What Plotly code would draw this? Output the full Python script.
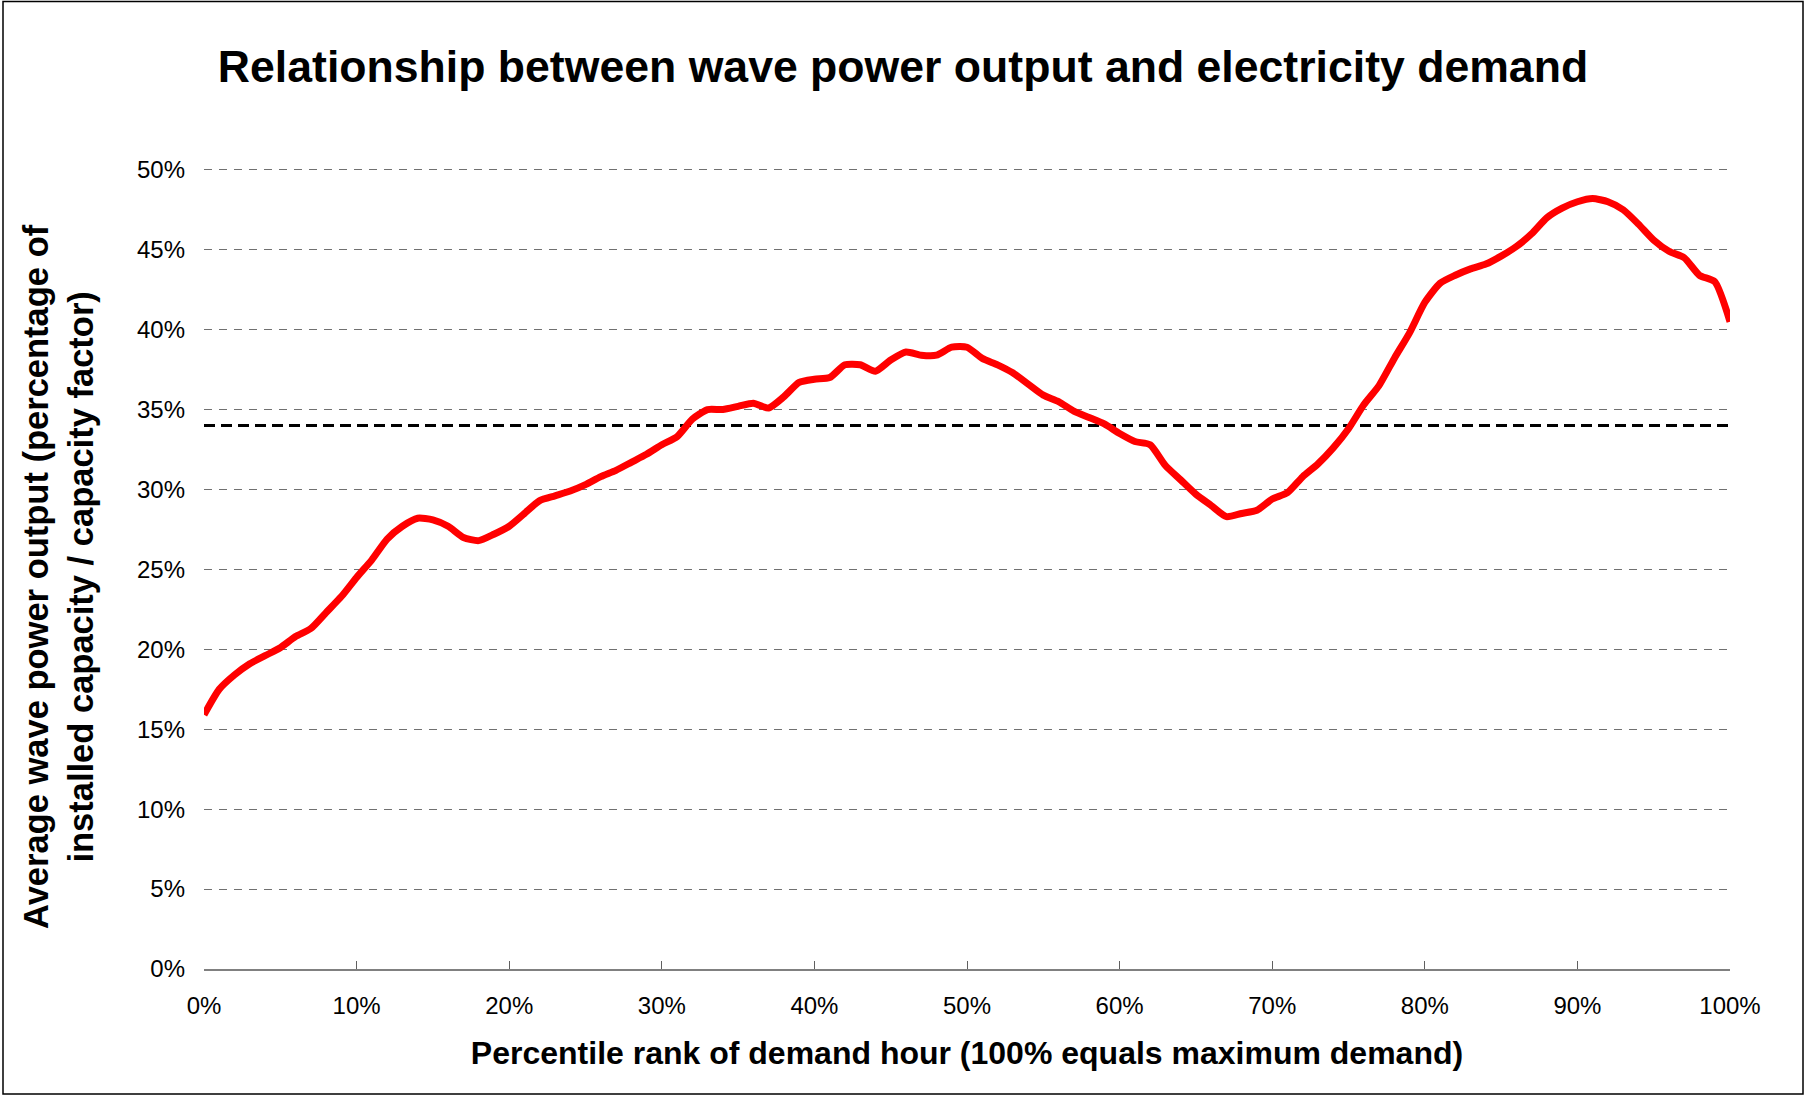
import plotly.graph_objects as go

# Percentile rank of demand hour (%)
percentile = list(range(0, 101))

# Average wave power output (% of installed capacity)
wave_output = [
    15.9, 17.5, 18.4, 19.1, 19.6, 20.1, 20.8, 21.3, 22.3, 23.3,
    24.5, 25.6, 26.9, 27.7, 28.2, 28.1, 27.7, 27.0, 26.8, 27.2,
    27.7, 28.5, 29.3, 29.6, 29.9, 30.3, 30.8, 31.2, 31.7, 32.2,
    32.8, 33.3, 34.4, 35.0, 35.0, 35.2, 35.4, 35.1, 35.8, 36.7,
    36.9, 37.0, 37.8, 37.8, 37.4, 38.1, 38.6, 38.4, 38.4, 38.9,
    38.9, 38.2, 37.8, 37.3, 36.6, 35.9, 35.5, 34.9, 34.5, 34.1,
    33.5, 33.0, 32.8, 31.5, 30.6, 29.7, 29.0, 28.3, 28.5, 28.7,
    29.4, 29.8, 30.8, 31.6, 32.6, 33.8, 35.3, 36.5, 38.2, 39.8,
    41.7, 42.9, 43.4, 43.8, 44.1, 44.6, 45.2, 46.0, 47.0, 47.6,
    48.0, 48.2, 48.0, 47.5, 46.6, 45.6, 44.9, 44.5, 43.4, 43.0,
    40.5,
]

# Overall average capacity factor (%)
average_output = 34.0
average_x = [0, 100]

W, H = 1806, 1097
margin = dict(l=204, r=76, t=165, b=128)
pw = W - margin['l'] - margin['r']
ph = H - margin['t'] - margin['b']


def px_to_paper_x(px):
    return (px - margin['l']) / pw


def px_to_paper_y(py):
    return (H - margin['b'] - py) / ph


fig = go.Figure()

# Average capacity factor reference line
fig.add_trace(go.Scatter(
    x=average_x,
    y=[average_output] * len(average_x),
    mode='lines',
    line=dict(color='black', width=3, dash='11px,6px'),
    hoverinfo='skip',
    showlegend=False
))

# Wave power output curve
fig.add_trace(go.Scatter(
    x=percentile,
    y=wave_output,
    mode='lines',
    line=dict(color='#FF0000', width=7, shape='spline', smoothing=0.6),
    showlegend=False
))

# Outer chart border
fig.add_shape(
    type='rect', xref='paper', yref='paper',
    x0=px_to_paper_x(3), x1=px_to_paper_x(W - 3),
    y0=px_to_paper_y(H - 3), y1=px_to_paper_y(1.5),
    line=dict(color='black', width=1.5),
    fillcolor='rgba(0,0,0,0)',
    layer='above'
)

font_family = 'Liberation Sans, Arial, sans-serif'

# Y axis title as a two-line rotated annotation
fig.add_annotation(
    text='Average wave power output (percentage of<br>installed capacity / capacity factor)',
    xref='paper', yref='paper',
    x=px_to_paper_x(58), y=px_to_paper_y(577),
    xanchor='center', yanchor='middle',
    textangle=-90,
    showarrow=False,
    font=dict(size=34.5, weight='bold', family=font_family, color='black')
)

fig.update_layout(
    width=W,
    height=H,
    margin=margin,
    plot_bgcolor='white',
    paper_bgcolor='white',
    font=dict(family=font_family, color='black', size=24),
    title=dict(
        text='Relationship between wave power output and electricity demand',
        x=0.5, xref='container', xanchor='center',
        y=1 - 66 / H, yref='container', yanchor='middle',
        font=dict(size=44.6, weight='bold', family=font_family, color='black')
    ),
    xaxis=dict(
        range=[0, 100],
        dtick=10,
        ticksuffix='%',
        showgrid=False,
        zeroline=False,
        showline=True,
        linecolor='#808080',
        linewidth=2,
        ticks='inside',
        ticklen=8,
        tickwidth=1,
        tickcolor='#606060',
        ticklabelstandoff=14,
        tickfont=dict(size=24),
        title=dict(
            text='Percentile rank of demand hour (100% equals maximum demand)',
            font=dict(size=32, weight='bold'),
            standoff=24
        )
    ),
    yaxis=dict(
        range=[0, 50.3],
        tick0=0,
        dtick=5,
        ticksuffix='%',
        showgrid=True,
        gridcolor='#707070',
        gridwidth=1,
        griddash='8px,7px',
        zeroline=False,
        showline=False,
        ticks='',
        ticklabelstandoff=18,
        tickfont=dict(size=24)
    )
)

fig.write_html(
    'out.html',
    config={'displayModeBar': False},
    post_script="document.body.style.margin='0';"
)
